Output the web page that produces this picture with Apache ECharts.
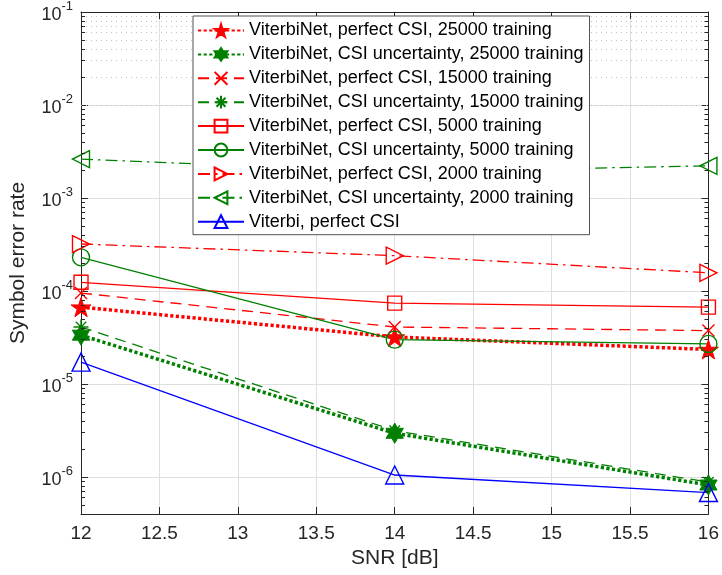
<!DOCTYPE html>
<html><head><meta charset="utf-8">
<script src="https://cdn.jsdelivr.net/npm/echarts@6/dist/echarts.min.js"></script>
<style>html,body{margin:0;padding:0;background:#fff}#c{width:722px;height:575px}</style>
</head><body><div id="c"></div>
<script>
// ---- data ----
const snr = [12, 14, 16];
const perfect25000 = [6.7e-5, 3.2e-5, 2.35e-5];
const uncert25000 = [3.35e-5, 2.95e-6, 8.2e-7];
const perfect15000 = [9.5e-5, 4.1e-5, 3.75e-5];
const uncert15000 = [4.1e-5, 3.15e-6, 8.8e-7];
const perfect5000 = [1.24e-4, 7.4e-5, 6.7e-5];
const uncert5000 = [2.3e-4, 3.0e-5, 2.7e-5];
const perfect2000 = [3.2e-4, 2.4e-4, 1.57e-4];
const uncert2000 = [2.62e-3, 1.9e-3, 2.22e-3];
const viterbiPerfect = [1.72e-5, 1.05e-6, 6.8e-7];
const xTicks = [12, 12.5, 13, 13.5, 14, 14.5, 15, 15.5, 16];
const yTickExponents = [-6, -5, -4, -3, -2, -1];
const legendNames = [
  'ViterbiNet, perfect CSI, 25000 training',
  'ViterbiNet, CSI uncertainty, 25000 training',
  'ViterbiNet, perfect CSI, 15000 training',
  'ViterbiNet, CSI uncertainty, 15000 training',
  'ViterbiNet, perfect CSI, 5000 training',
  'ViterbiNet, CSI uncertainty, 5000 training',
  'ViterbiNet, perfect CSI, 2000 training',
  'ViterbiNet, CSI uncertainty, 2000 training',
  'Viterbi, perfect CSI'
];

const yMin = 4e-7, yMax = 0.1;
const RED = '#ff0000', GREEN = '#008000', BLUE = '#0000ff', AX = '#262626';
const FONT = 'Liberation Sans, Arial, Helvetica, sans-serif';

function starPath(n, rIn) {
  let pts = [];
  for (let i = 0; i < 2 * n; i++) {
    const r = i % 2 === 0 ? 50 : 50 * rIn;
    const a = -Math.PI / 2 + i * Math.PI / n;
    pts.push((50 + r * Math.cos(a)).toFixed(2) + ',' + (50 + r * Math.sin(a)).toFixed(2));
  }
  return 'path://M' + pts.join('L') + 'Z';
}
const SYM = {
  star: starPath(5, 0.382),
  hex: starPath(6, 0.577),
  x: 'path://M0,0L10,10M10,0L0,10',
  ast: 'path://M5,0L5,10M0,5L10,5M1.5,1.5L8.5,8.5M8.5,1.5L1.5,8.5',
  square: 'rect',
  circle: 'circle',
  right: 'path://M0,0L10,5L0,10Z',
  left: 'path://M10,0L0,5L10,10Z',
  up: 'path://M5,0L10,10L0,10Z'
};
const DOTTED = [3.2, 2.4], DASHED = [11, 7], DASHDOT = [12, 5, 2.5, 5];

function mk(i, data, color, type, width, sym, size, filled) {
  return {
    name: legendNames[i], type: 'line', z: 3,
    data: snr.map((x, k) => [x, data[k]]),
    symbol: SYM[sym], symbolSize: size, symbolKeepAspect: true, showAllSymbol: true,
    lineStyle: { color: color, width: width, type: type },
    itemStyle: { color: filled ? color : 'none', borderColor: color, borderWidth: filled ? 1 : 1.4 },
    emphasis: { disabled: true }, animation: false
  };
}

// minor grid / minor ticks
const minorVals = [];
for (let e = -7; e <= -2; e++) for (let k = 2; k <= 9; k++) {
  const v = k * Math.pow(10, e);
  if (v > yMin * 1.001 && v < yMax) minorVals.push(v);
}
const tl = 4 / 157.4;
const minorGrid = {
  name: 'minorgrid', type: 'line', data: [], z: 1, silent: true,
  markLine: {
    silent: true, symbol: ['none', 'none'], z: 1, animation: false,
    label: { show: false },
    lineStyle: { color: '#c2c2c2', type: [1, 4], width: 1 },
    emphasis: { disabled: true },
    data: minorVals.map(v => ({ yAxis: v }))
  }
};
const minorTicks = {
  name: 'minorticks', type: 'line', data: [], z: 4, silent: true,
  markLine: {
    silent: true, symbol: ['none', 'none'], z: 4, animation: false,
    label: { show: false },
    lineStyle: { color: AX, type: 'solid', width: 1 },
    emphasis: { disabled: true },
    data: minorVals.flatMap(v => [
      [{ coord: [12, v] }, { coord: [12 + tl, v] }],
      [{ coord: [16 - tl, v] }, { coord: [16, v] }]
    ])
  }
};

const yLabelFmt = function (v) {
  const e = Math.round(Math.log10(v));
  if (Math.abs(Math.log10(v) - e) > 1e-6 || yTickExponents.indexOf(e) < 0) return '';
  return '{b|10}{s|' + e + '}';
};

const option = {
  backgroundColor: '#fff',
  animation: false,
  textStyle: { fontFamily: FONT },
  grid: { left: 80, right: 12.5, top: 12, bottom: 61, containLabel: false },
  xAxis: [{
    type: 'value', min: 12, max: 16, interval: 0.5,
    name: 'SNR [dB]', nameLocation: 'middle', nameGap: 33,
    nameTextStyle: { fontSize: 21, color: AX, fontFamily: FONT },
    axisLine: { show: true, lineStyle: { color: AX, width: 1 } },
    axisTick: { show: true, inside: true, length: 7, lineStyle: { color: AX } },
    axisLabel: { fontSize: 19, color: AX, margin: 10, fontFamily: FONT,
      formatter: v => (xTicks.indexOf(v) >= 0 ? String(v) : '') },
    splitLine: { show: true, lineStyle: { color: '#dfdfdf', width: 1 } }
  }, {
    type: 'value', min: 12, max: 16, interval: 0.5, position: 'top',
    axisLine: { show: true, lineStyle: { color: AX, width: 1 } },
    axisTick: { show: true, inside: true, length: 7, lineStyle: { color: AX } },
    axisLabel: { show: false }, splitLine: { show: false }
  }],
  yAxis: [{
    type: 'log', logBase: 10, min: yMin, max: yMax,
    name: 'Symbol error rate', nameLocation: 'middle', nameGap: 52,
    nameTextStyle: { fontSize: 21, color: AX, fontFamily: FONT },
    axisLine: { show: true, lineStyle: { color: AX, width: 1 } },
    axisTick: { show: true, inside: true, length: 7, lineStyle: { color: AX } },
    axisLabel: {
      margin: 8, color: AX, formatter: yLabelFmt, showMinLabel: false,
      rich: {
        b: { fontSize: 18, lineHeight: 24, color: AX, fontFamily: FONT, verticalAlign: 'bottom' },
        s: { fontSize: 13, lineHeight: 13, color: AX, fontFamily: FONT, verticalAlign: 'top' }
      }
    },
    splitLine: { show: true, lineStyle: { color: '#dfdfdf', width: 1 } },
    minorTick: { show: false }, minorSplitLine: { show: false }
  }, {
    type: 'log', logBase: 10, min: yMin, max: yMax, position: 'right',
    axisLine: { show: true, lineStyle: { color: AX, width: 1 } },
    axisTick: { show: true, inside: true, length: 7, lineStyle: { color: AX } },
    axisLabel: { show: false }, splitLine: { show: false }
  }],
  legend: {
    data: legendNames, orient: 'vertical', left: 193, top: 16,
    itemWidth: 46, itemHeight: 16, itemGap: 5.9,
    padding: [5.5, 6, 4, 4],
    backgroundColor: '#fff', borderColor: AX, borderWidth: 0.8, borderRadius: 0,
    textStyle: { fontSize: 18, lineHeight: 18, color: '#000', fontFamily: FONT },
    selectedMode: false, z: 10
  },
  series: [
    minorGrid,
    mk(0, perfect25000, RED, DOTTED, 3.5, 'star', 20, true),
    mk(1, uncert25000, GREEN, DOTTED, 3.5, 'hex', 20, true),
    mk(2, perfect15000, RED, DASHED, 1.3, 'x', 12, false),
    mk(3, uncert15000, GREEN, DASHED, 1.3, 'ast', 15, false),
    mk(4, perfect5000, RED, 'solid', 1.3, 'square', 14, false),
    mk(5, uncert5000, GREEN, 'solid', 1.3, 'circle', 17, false),
    mk(6, perfect2000, RED, DASHDOT, 1.3, 'right', 17, false),
    mk(7, uncert2000, GREEN, DASHDOT, 1.3, 'left', 17, false),
    mk(8, viterbiPerfect, BLUE, 'solid', 1.3, 'up', 18, false),
    minorTicks
  ]
};
const chart = echarts.init(document.getElementById('c'), null, { renderer: 'canvas' });
chart.setOption(option);
</script>
</body></html>
